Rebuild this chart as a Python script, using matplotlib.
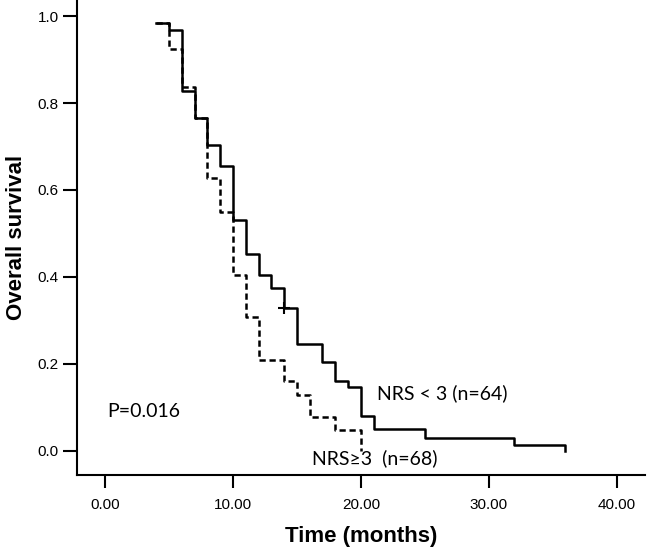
import matplotlib
matplotlib.use("Agg")
import matplotlib.pyplot as plt

# Kaplan-Meier steps
t_low = [4, 5, 6, 7, 8, 9, 10, 11, 12, 13, 14, 15, 17, 18, 19, 20, 21, 25, 32, 36]
s_low = [0.984, 0.968, 0.828, 0.766, 0.703, 0.656, 0.531, 0.453, 0.405, 0.375,
         0.328, 0.246, 0.204, 0.162, 0.146, 0.080, 0.050, 0.031, 0.014, 0.0]

t_high = [4, 5, 6, 7, 8, 9, 10, 11, 12, 14, 15, 16, 18, 20]
s_high = [0.985, 0.925, 0.837, 0.765, 0.627, 0.550, 0.405, 0.307, 0.209,
          0.161, 0.129, 0.079, 0.048, 0.0]

censor_t = [14]
censor_s = [0.328]

xticks = [0, 10, 20, 30, 40]
yticks = [0.0, 0.2, 0.4, 0.6, 0.8, 1.0]

plt.rcParams['font.family'] = ['Liberation Sans', 'DejaVu Sans']

fig = plt.figure(figsize=(6.5, 5.52), dpi=100)
ax = fig.add_axes([0.1185, 0.1395, 0.8735, 0.8605])

ax.step(t_low, s_low, where='post', color='black', lw=1.8)
ax.step(t_high, s_high, where='post', color='black', lw=1.8, linestyle=(0, (2.5, 1.5)))
ax.plot(censor_t, censor_s, marker='+', color='black', ms=9, mew=1.5, ls='none')

ax.set_xlim(-2.19, 42.2)
ax.set_ylim(-0.0552, 1.0368)
ax.set_xticks(xticks)
ax.set_xticklabels(['%.2f' % v for v in xticks])
ax.set_yticks(yticks)
ax.set_yticklabels(['%.1f' % v for v in yticks])

for s in ['top', 'right']:
    ax.spines[s].set_visible(False)
for s in ['left', 'bottom']:
    ax.spines[s].set_linewidth(1.5)
ax.tick_params(axis='x', direction='out', length=9.5, width=1.5, pad=7, labelsize=11)
ax.tick_params(axis='y', direction='out', length=10, width=1.5, pad=3, labelsize=11)

ax.set_xlabel('Time (months)', fontsize=16, fontweight='bold', labelpad=10)
ax.set_ylabel('Overall survival', fontsize=16, fontweight='bold', labelpad=8)

calibri = ['Lato', 'DejaVu Sans']
ax.text(0.2, 0.09, 'P=0.016', fontsize=14, family=calibri, va='center')
ax.text(21.3, 0.133, 'NRS < 3 (n=64)', fontsize=14, family=calibri, va='center')
ax.text(16.2, -0.016, 'NRS\u22653  (n=68)', fontsize=14, family=calibri, va='center')

fig.savefig('out.png', dpi=100)
